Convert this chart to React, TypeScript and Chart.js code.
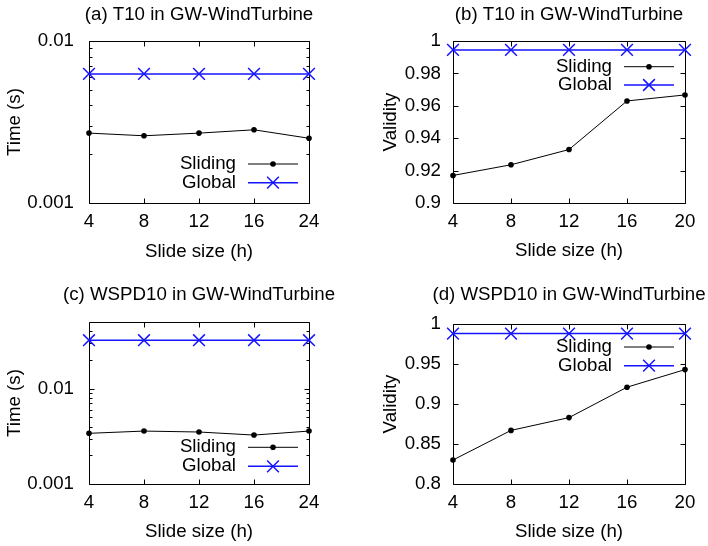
import React, { useEffect, useRef } from 'react';
import { Chart, registerables } from 'chart.js';

Chart.register(...registerables);

// ---------------- data ----------------
const timeSlideSizes = ['4', '8', '12', '16', '24'];
const validitySlideSizes = ['4', '8', '12', '16', '20'];
const seriesNames = ['Sliding', 'Global'];

const t10TimeSliding = [0.0027, 0.0026, 0.0027, 0.00283, 0.00251];
const t10TimeGlobal = [0.00626, 0.00626, 0.00626, 0.00626, 0.00626];
const t10ValiditySliding = [0.917, 0.9236, 0.933, 0.963, 0.9667];
const t10ValidityGlobal = [0.9945, 0.9945, 0.9945, 0.9945, 0.9945];
const wspdTimeSliding = [0.0034, 0.00359, 0.00351, 0.00326, 0.00359];
const wspdTimeGlobal = [0.0322, 0.0322, 0.0322, 0.0322, 0.0322];
const wspdValiditySliding = [0.83, 0.867, 0.883, 0.921, 0.943];
const wspdValidityGlobal = [0.988, 0.988, 0.988, 0.988, 0.988];

const timeMajorTicks = [0.001, 0.01];
const timeMinorTicksA = [0.002, 0.003, 0.004, 0.005, 0.006, 0.007, 0.008, 0.009];
const timeMinorTicksC = [0.002, 0.003, 0.004, 0.005, 0.006, 0.007, 0.008, 0.009, 0.02, 0.03, 0.04];
const validityTicksB = [0.9, 0.92, 0.94, 0.96, 0.98, 1];
const validityTicksD = [0.8, 0.85, 0.9, 0.95, 1];

const panelTitles = [
  '(a) T10 in GW-WindTurbine',
  '(b) T10 in GW-WindTurbine',
  '(c) WSPD10 in GW-WindTurbine',
  '(d) WSPD10 in GW-WindTurbine',
];
const xTitle = 'Slide size (h)';
const timeTitle = 'Time (s)';
const validityTitle = 'Validity';

// ---------------- style ----------------
const FONT_FAMILY = '"Liberation Sans", Arial, Helvetica, sans-serif';
const FONT_SIZE = 18.7;
const FONT = { family: FONT_FAMILY, size: FONT_SIZE, weight: 'normal' as const, lineHeight: 1.2 };
const BLACK = '#000000';
const BLUE = '#1414ff';
const DOT_R = 2.8;
const CROSS_R = 8.3;

type Panel = {
  title: string;
  labels: string[];
  sliding: number[];
  global: number[];
  yType: 'logarithmic' | 'linear';
  yMin: number;
  yMax: number;
  yMajor: number[];
  yMinor: number[];
  yTitle: string;
  left: number;
  top: number;
  width: number;
  height: number;
  axisW: number;
  xAxisH: number;
  titlePadTop: number;
  titlePadBottom: number;
  yTickPad: number;
  yTitlePad: number;
  xTitlePad: number;
  legendAt: 'top' | 'bottom';
  legendOffsets: number[];
};

const LH = FONT_SIZE * 1.2;

const panels: Panel[] = [
  {
    title: panelTitles[0], labels: timeSlideSizes, sliding: t10TimeSliding, global: t10TimeGlobal,
    yType: 'logarithmic', yMin: 0.001, yMax: 0.01, yMajor: timeMajorTicks, yMinor: timeMinorTicksA, yTitle: timeTitle,
    left: 0, top: 0, width: 398, height: 273, axisW: 89, xAxisH: 70,
    titlePadTop: 15 - LH / 2, titlePadBottom: 41 - 15 - LH / 2, yTickPad: 15, yTitlePad: 15.3 - LH / 2, xTitlePad: 273 - 251.7 - LH / 2,
    legendAt: 'bottom', legendOffsets: [39, 20.3],
  },
  {
    title: panelTitles[1], labels: validitySlideSizes, sliding: t10ValiditySliding, global: t10ValidityGlobal,
    yType: 'linear', yMin: 0.9, yMax: 1, yMajor: validityTicksB, yMinor: [], yTitle: validityTitle,
    left: 373, top: 0, width: 392, height: 273, axisW: 80, xAxisH: 70,
    titlePadTop: 15 - LH / 2, titlePadBottom: 41 - 15 - LH / 2, yTickPad: 12, yTitlePad: 17.5 - LH / 2, xTitlePad: 273 - 251.2 - LH / 2,
    legendAt: 'top', legendOffsets: [25.7, 44],
  },
  {
    title: panelTitles[2], labels: timeSlideSizes, sliding: wspdTimeSliding, global: wspdTimeGlobal,
    yType: 'logarithmic', yMin: 0.001, yMax: 0.05, yMajor: timeMajorTicks, yMinor: timeMinorTicksC, yTitle: timeTitle,
    left: 0, top: 273, width: 398, height: 273, axisW: 89, xAxisH: 62,
    titlePadTop: 21.7 - LH / 2, titlePadBottom: 49 - 21.7 - LH / 2, yTickPad: 15, yTitlePad: 15.3 - LH / 2, xTitlePad: 273 - 259 - LH / 2,
    legendAt: 'bottom', legendOffsets: [36.7, 17.7],
  },
  {
    title: panelTitles[3], labels: validitySlideSizes, sliding: wspdValiditySliding, global: wspdValidityGlobal,
    yType: 'linear', yMin: 0.8, yMax: 1, yMajor: validityTicksD, yMinor: [], yTitle: validityTitle,
    left: 373, top: 273, width: 392, height: 273, axisW: 80, xAxisH: 62,
    titlePadTop: 21.7 - LH / 2, titlePadBottom: 51 - 21.7 - LH / 2, yTickPad: 12, yTitlePad: 17.5 - LH / 2, xTitlePad: 273 - 259 - LH / 2,
    legendAt: 'top', legendOffsets: [23, 41.7],
  },
];

function drawMarker(ctx: CanvasRenderingContext2D, kind: 'dot' | 'x', x: number, y: number, color: string) {
  ctx.save();
  if (kind === 'dot') {
    ctx.fillStyle = color;
    ctx.beginPath();
    ctx.arc(x, y, DOT_R, 0, Math.PI * 2);
    ctx.fill();
  } else {
    const r = CROSS_R * Math.SQRT1_2;
    ctx.strokeStyle = color;
    ctx.lineWidth = 1.5;
    ctx.beginPath();
    ctx.moveTo(x - r, y - r);
    ctx.lineTo(x + r, y + r);
    ctx.moveTo(x - r, y + r);
    ctx.lineTo(x + r, y - r);
    ctx.stroke();
  }
  ctx.restore();
}

function makeFramePlugin(p: Panel) {
  return {
    id: 'gnuplotFrame',
    beforeDatasetsDraw(chart: any) {
      const { ctx, chartArea } = chart;
      const xs = chart.scales.x;
      const ys = chart.scales.y;
      const L = Math.round(chartArea.left) + 0.5;
      const R = Math.round(chartArea.right) + 0.5;
      const T = Math.round(chartArea.top) + 0.5;
      const B = Math.round(chartArea.bottom) + 0.5;
      ctx.save();
      ctx.strokeStyle = BLACK;
      ctx.lineWidth = 1;
      ctx.beginPath();
      ctx.rect(L, T, R - L, B - T);
      ctx.stroke();
      ctx.beginPath();
      p.labels.forEach((_, i) => {
        const px = Math.round(xs.getPixelForValue(i)) + 0.5;
        ctx.moveTo(px, B);
        ctx.lineTo(px, B - 5);
        ctx.moveTo(px, T);
        ctx.lineTo(px, T + 5);
      });
      p.yMajor.forEach((v) => {
        const py = Math.round(ys.getPixelForValue(v)) + 0.5;
        ctx.moveTo(L, py);
        ctx.lineTo(L + 5, py);
        ctx.moveTo(R, py);
        ctx.lineTo(R - 5, py);
      });
      p.yMinor.forEach((v) => {
        const py = Math.round(ys.getPixelForValue(v)) + 0.5;
        ctx.moveTo(L, py);
        ctx.lineTo(L + 3, py);
        ctx.moveTo(R, py);
        ctx.lineTo(R - 3, py);
      });
      ctx.stroke();
      ctx.restore();
    },
    afterDatasetsDraw(chart: any) {
      const { ctx, chartArea } = chart;
      const right = chartArea.right;
      ctx.save();
      ctx.font = `${FONT_SIZE}px ${FONT_FAMILY}`;
      ctx.textAlign = 'right';
      ctx.textBaseline = 'middle';
      ctx.fillStyle = BLACK;
      seriesNames.forEach((name, i) => {
        const y = p.legendAt === 'top' ? chartArea.top + p.legendOffsets[i] : chartArea.bottom - p.legendOffsets[i];
        ctx.fillText(name, right - 73, y);
        const color = i === 0 ? BLACK : BLUE;
        ctx.strokeStyle = color;
        ctx.lineWidth = i === 0 ? 1 : 1.5;
        ctx.beginPath();
        ctx.moveTo(right - 61, y);
        ctx.lineTo(right - 11, y);
        ctx.stroke();
        drawMarker(ctx, i === 0 ? 'dot' : 'x', right - 36, y, color);
      });
      ctx.restore();
    },
  };
}

function PanelChart({ p }: { p: Panel }) {
  const ref = useRef<HTMLCanvasElement | null>(null);
  useEffect(() => {
    if (!ref.current) return;
    const chart = new Chart(ref.current, {
      type: 'line',
      data: {
        labels: p.labels,
        datasets: [
          {
            label: seriesNames[0],
            data: p.sliding,
            borderColor: BLACK,
            backgroundColor: BLACK,
            borderWidth: 1,
            pointStyle: 'circle',
            pointRadius: DOT_R,
            pointBorderWidth: 0,
            pointBackgroundColor: BLACK,
            tension: 0,
            clip: false as any,
          },
          {
            label: seriesNames[1],
            data: p.global,
            borderColor: BLUE,
            backgroundColor: BLUE,
            borderWidth: 1.5,
            pointStyle: 'crossRot',
            pointRadius: CROSS_R,
            pointBorderWidth: 1.5,
            pointBorderColor: BLUE,
            tension: 0,
            clip: false as any,
          },
        ],
      },
      options: {
        animation: false,
        responsive: false,
        devicePixelRatio: 1,
        layout: { padding: 0 },
        events: [],
        plugins: {
          legend: { display: false },
          tooltip: { enabled: false },
          title: {
            display: true,
            text: p.title,
            color: BLACK,
            font: FONT,
            fullSize: true,
            padding: { top: p.titlePadTop, bottom: p.titlePadBottom },
          },
        },
        scales: {
          x: {
            type: 'category',
            offset: false,
            grid: { display: false, drawTicks: false },
            border: { display: false },
            ticks: { color: BLACK, font: FONT, padding: 18.4 - LH / 2, maxRotation: 0, autoSkip: false },
            title: { display: true, text: xTitle, color: BLACK, font: FONT, padding: { top: 0, bottom: p.xTitlePad } },
            afterFit: (s: any) => { s.height = p.xAxisH; },
          },
          y: {
            type: p.yType,
            position: 'left',
            min: p.yMin,
            max: p.yMax,
            grid: { display: false, drawTicks: false },
            border: { display: false },
            ticks: {
              color: BLACK,
              font: FONT,
              padding: p.yTickPad,
              autoSkip: false,
              callback: (v: any) => String(Number(v)),
            },
            afterBuildTicks: (s: any) => { s.ticks = p.yMajor.map((v) => ({ value: v })); },
            title: { display: true, text: p.yTitle, color: BLACK, font: FONT, padding: { top: p.yTitlePad, bottom: 0 } },
            afterFit: (s: any) => { s.width = p.axisW; },
          } as any,
          yR: {
            type: 'linear',
            position: 'right',
            display: true,
            grid: { display: false, drawTicks: false },
            border: { display: false },
            ticks: { display: false },
            afterFit: (s: any) => { s.width = p.axisW; },
          },
        },
      },
      plugins: [makeFramePlugin(p)],
    });
    return () => chart.destroy();
  }, [p]);
  return (
    <canvas
      ref={ref}
      width={p.width}
      height={p.height}
      style={{ position: 'absolute', left: p.left, top: p.top, width: p.width, height: p.height }}
    />
  );
}

export default function App() {
  return (
    <div
      style={{
        position: 'fixed',
        left: 0,
        top: 0,
        width: 708,
        height: 546,
        overflow: 'hidden',
        background: '#ffffff',
      }}
    >
      {panels.map((p, i) => (
        <PanelChart key={i} p={p} />
      ))}
    </div>
  );
}
